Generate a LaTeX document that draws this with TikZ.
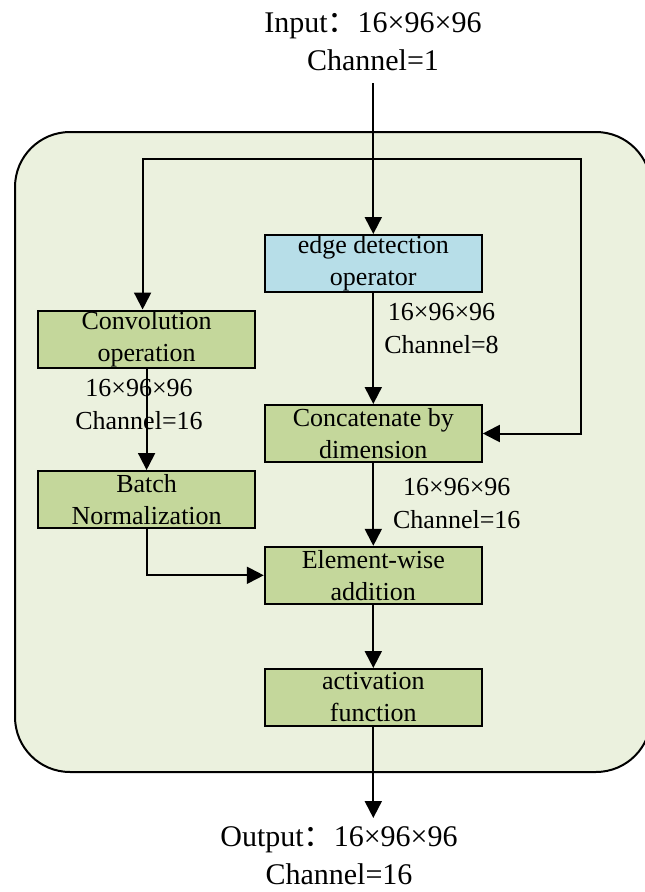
\documentclass[tikz,border=0pt]{standalone}
\usepackage{fontspec}
\setmainfont{Liberation Serif}
\newfontfamily\cjk{Noto Sans CJK SC}
\usetikzlibrary{arrows.meta}
\definecolor{bgreen}{RGB}{235,241,222}
\definecolor{boxgreen}{RGB}{196,215,155}
\definecolor{boxblue}{RGB}{183,222,232}
\begin{document}
\begin{tikzpicture}[x=1pt,y=-1pt,
  blk/.style={draw, line width=2pt, minimum width=217pt, minimum height=57pt, inner sep=0pt, align=center, font=\fontsize{26}{32}\selectfont},
  gbox/.style={blk, fill=boxgreen},
  bbox/.style={blk, fill=boxblue},
  lbl/.style={align=center, inner sep=0pt, font=\fontsize{26}{33}\selectfont},
  biglbl/.style={align=center, inner sep=0pt, font=\fontsize{30}{38}\selectfont},
  arr/.style={line width=2pt, -{Triangle[length=17pt,width=17pt]}}]
\useasboundingbox (0,0) rectangle (645,892);
\draw[line width=2pt, fill=bgreen, rounded corners=55pt] (15,132) rectangle (651,772);

\node[bbox] (edge) at (373.3,263.5) {edge detection\\operator};
\node[gbox] (conv) at (146.6,339) {Convolution\\operation};
\node[gbox] (bn) at (146.6,499.5) {Batch\\Normalization};
\node[gbox] (concat) at (373.3,433.5) {Concatenate by\\dimension};
\node[gbox] (add) at (373.3,575.3) {Element-wise\\addition};
\node[gbox] (act) at (373.3,697.5) {activation\\function};

\node[biglbl] (inlbl) at (373,42) {Input{\cjk ：}16×96×96\\Channel=1};
\node[biglbl] (outlbl) at (339,856) {Output{\cjk ：}16×96×96\\Channel=16};

\node[lbl] (l1) at (441.5,329) {16×96×96\\Channel=8};
\node[lbl] (l2) at (139,405) {16×96×96\\Channel=16};
\node[lbl] (l3) at (456.8,503.5) {16×96×96\\Channel=16};

\coordinate (instart) at (373.3,83);
\coordinate (split) at (373.3,159);
\coordinate (rt) at (581,159);
\coordinate (outend) at (373.3,818);

\draw[arr] (instart) -- (edge.north);
\draw[arr] (split) -| ([xshift=-4pt]conv.north);
\draw[arr] (split) -- (rt) |- (concat.east);
\draw[arr] (conv.south) -- (bn.north);
\draw[arr] (edge.south) -- (concat.north);
\draw[arr] (concat.south) -- (add.north);
\draw[arr] (bn.south) |- (add.west);
\draw[arr] (add.south) -- (act.north);
\draw[arr] (act.south) -- (outend);
\end{tikzpicture}
\end{document}
